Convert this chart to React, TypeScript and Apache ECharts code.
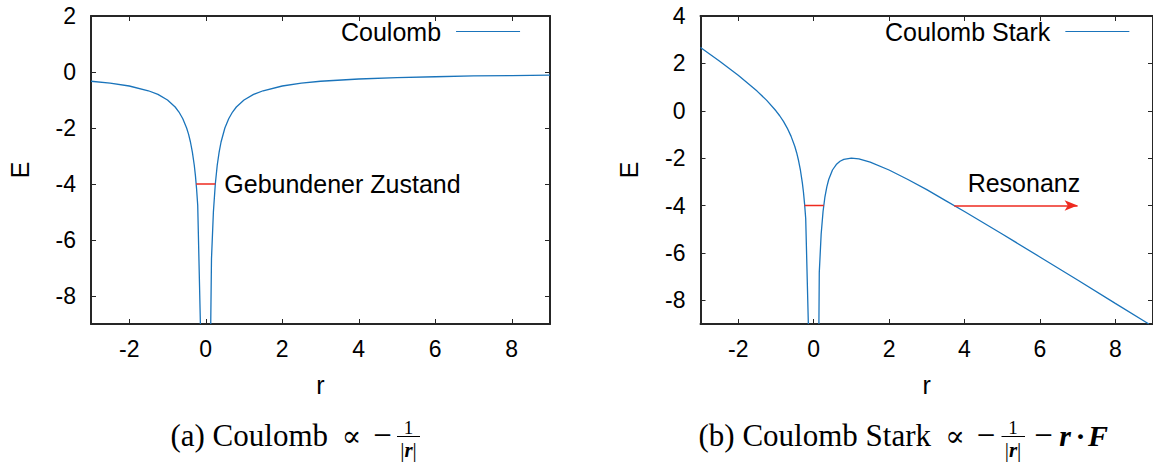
import React, { useEffect, useRef } from 'react';
import * as echarts from 'echarts';

// Axis ticks
const xTicks = [-2, 0, 2, 4, 6, 8];
const yTicksA = [-8, -6, -4, -2, 0, 2];
const yTicksB = [-8, -6, -4, -2, 0, 2, 4];

// (a) Coulomb potential
const coulombLeftR = [-3, -2.5, -2, -1.5, -1.25, -1, -0.8, -0.7, -0.6, -0.5, -0.45, -0.4, -0.35, -0.3, -0.27, -0.24, -0.21, -0.14];
const coulombLeftE = [-0.33, -0.4, -0.5, -0.67, -0.8, -1, -1.25, -1.43, -1.67, -2, -2.22, -2.5, -2.86, -3.33, -3.7, -4.17, -4.76, -9];
const coulombRightR = [0.13, 0.15, 0.2, 0.25, 0.3, 0.35, 0.4, 0.5, 0.6, 0.7, 0.8, 1, 1.25, 1.5, 2, 2.5, 3, 4, 5, 6, 7, 8, 9];
const coulombRightE = [-9, -6.67, -5, -4, -3.33, -2.86, -2.5, -2, -1.67, -1.43, -1.25, -1, -0.8, -0.67, -0.5, -0.4, -0.33, -0.25, -0.2, -0.17, -0.14, -0.13, -0.11];
const boundR_A = [-0.25, 0.25];
const boundE_A = [-4, -4];

// (b) Coulomb + Stark potential
const starkLeftR = [-3, -2.5, -2, -1.5, -1.25, -1, -0.9, -0.8, -0.7, -0.6, -0.5, -0.45, -0.4, -0.35, -0.3, -0.27, -0.24, -0.21, -0.14];
const starkLeftE = [2.67, 2.1, 1.5, 0.83, 0.45, 0, -0.21, -0.45, -0.73, -1.07, -1.5, -1.77, -2.1, -2.51, -3.03, -3.43, -3.93, -4.55, -9];
const starkRightR = [0.14, 0.15, 0.2, 0.25, 0.3, 0.35, 0.4, 0.5, 0.6, 0.7, 0.8, 1, 1.2, 1.5, 2, 2.5, 3, 3.5, 4, 5, 6, 7, 8, 8.89];
const starkRightE = [-9, -6.82, -5.2, -4.25, -3.63, -3.21, -2.9, -2.5, -2.27, -2.13, -2.05, -2, -2.03, -2.17, -2.5, -2.9, -3.33, -3.79, -4.25, -5.2, -6.17, -7.14, -8.13, -9];
const boundR_B = [-0.24, 0.27];
const boundE_B = [-4, -4];
const resonanceR = [3.73, 7];
const resonanceE = [-4, -4];

const zip = (xs: number[], ys: number[]) => xs.map((x, i) => [x, ys[i]]);

const BLUE = '#1a74bb';
const RED = '#ee2a1f';
const AXIS = '#262626';
const SANS = '"Liberation Sans", Arial, sans-serif';
const SERIF = '"Liberation Serif", "Times New Roman", serif';
const MATH = '"DejaVu Serif", serif';

function xAxisPair(gridIndex: number) {
  const line = { onZero: false, lineStyle: { color: AXIS, width: 2 } };
  const tick = { inside: true, length: 5, customValues: xTicks, lineStyle: { color: AXIS, width: 1 } };
  return [
    {
      type: 'value', gridIndex, position: 'bottom', min: -3, max: 9,
      axisLine: line, axisTick: tick,
      axisLabel: { customValues: xTicks, fontSize: 23, color: '#000', margin: 13, fontFamily: SANS },
      splitLine: { show: false },
      name: 'r', nameLocation: 'middle', nameGap: 48,
      nameTextStyle: { fontSize: 25, color: '#000', fontFamily: SANS },
    },
    {
      type: 'value', gridIndex, position: 'top', min: -3, max: 9,
      axisLine: line, axisTick: tick, axisLabel: { show: false }, splitLine: { show: false },
    },
  ];
}

function yAxisPair(gridIndex: number, max: number, ticks: number[]) {
  const line = { onZero: false, lineStyle: { color: AXIS, width: 2 } };
  const tick = { inside: true, length: 5, customValues: ticks, lineStyle: { color: AXIS, width: 1 } };
  return [
    {
      type: 'value', gridIndex, position: 'left', min: -9, max,
      axisLine: line, axisTick: tick,
      axisLabel: { customValues: ticks, fontSize: 23, color: '#000', margin: 15, fontFamily: SANS },
      splitLine: { show: false },
      name: 'E', nameLocation: 'middle', nameGap: 59, nameRotate: 90,
      nameTextStyle: { fontSize: 25, color: '#000', fontFamily: SANS },
    },
    {
      type: 'value', gridIndex, position: 'right', min: -9, max,
      axisLine: line, axisTick: tick, axisLabel: { show: false }, splitLine: { show: false },
    },
  ];
}

const curve = (name: string, xi: number, data: number[][]) => ({
  name, type: 'line', xAxisIndex: xi, yAxisIndex: xi, data,
  symbol: 'none', showSymbol: false, smooth: false,
  lineStyle: { color: BLUE, width: 1.3 }, itemStyle: { color: BLUE },
  silent: true,
});

const legendCommon = {
  orient: 'horizontal', align: 'right', padding: 0, itemGap: 0,
  icon: 'path://M0,0H64V1H0Z', itemWidth: 64, itemHeight: 1.4,
  textStyle: { fontSize: 25, color: '#000', fontFamily: SANS, padding: [0, 10, 0, 0] },
  selectedMode: false,
};

const txt = (x: number, y: number, text: string, fontSize: number, fontFamily: string, extra: any = {}) => ({
  type: 'text', x, y,
  style: { text, fontSize, fontFamily, fill: '#000', align: 'center', verticalAlign: 'middle', ...extra },
});

const denomRich = {
  n: { fontSize: 21, fontFamily: SERIF },
  b: { fontSize: 21, fontFamily: SERIF, fontStyle: 'italic', fontWeight: 'bold' },
};

const option: any = {
  animation: false,
  backgroundColor: '#fff',
  textStyle: { fontFamily: SANS },
  grid: [
    { left: 91, top: 16, width: 459, height: 308 },
    { left: 700.5, top: 16, width: 459.6, height: 308 },
  ],
  xAxis: [...xAxisPair(0), ...xAxisPair(1)],
  yAxis: [...yAxisPair(0, 2, yTicksA), ...yAxisPair(1, 4, yTicksB)],
  legend: [
    { ...legendCommon, data: ['Coulomb'], left: 341, top: 19 },
    { ...legendCommon, data: ['Coulomb Stark'], left: 885, top: 19 },
  ],
  series: [
    curve('Coulomb', 0, zip(coulombLeftR, coulombLeftE)),
    curve('Coulomb', 0, zip(coulombRightR, coulombRightE)),
    {
      name: 'Gebundener Zustand', type: 'line', xAxisIndex: 0, yAxisIndex: 0,
      data: zip(boundR_A, boundE_A), symbol: 'none', silent: true,
      lineStyle: { color: RED, width: 1.5 },
      endLabel: { show: true, formatter: 'Gebundener Zustand', fontSize: 25, color: '#000', fontFamily: SANS, distance: 9 },
    },
    curve('Coulomb Stark', 2, zip(starkLeftR, starkLeftE)),
    curve('Coulomb Stark', 2, zip(starkRightR, starkRightE)),
    {
      name: 'Gebunden Stark', type: 'line', xAxisIndex: 2, yAxisIndex: 2,
      data: zip(boundR_B, boundE_B), symbol: 'none', silent: true,
      lineStyle: { color: RED, width: 1.5 },
    },
    {
      name: 'Resonanz', type: 'line', xAxisIndex: 2, yAxisIndex: 2, data: [], symbol: 'none',
      markLine: {
        silent: true, animation: false,
        symbol: ['none', 'arrow'], symbolSize: [8, 13],
        lineStyle: { color: RED, width: 1.5, type: 'solid' },
        label: { show: true, position: 'middle', formatter: 'Resonanz', fontSize: 25, color: '#000', fontFamily: SANS, distance: 10, padding: [0, 0, 0, 16] },
        data: [[{ coord: [resonanceR[0], resonanceE[0]] }, { coord: [resonanceR[1], resonanceE[1]] }]],
      },
    },
  ],
  graphic: [
    // caption (a)
    txt(328, 435, '(a) Coulomb', 31, SERIF, { align: 'right' }),
    txt(351.5, 436, '\u221d', 29, MATH),
    txt(382.5, 435, '\u2212', 33, SERIF),
    txt(408.5, 427.5, '1', 19, SERIF),
    { type: 'line', shape: { x1: 397, y1: 436.5, x2: 420, y2: 436.5 }, style: { stroke: '#000', lineWidth: 1 } },
    txt(408.5, 450, '{n||}{b|r}{n||}', 21, SERIF, { rich: denomRich }),
    // caption (b)
    txt(931, 435, '(b) Coulomb Stark', 31, SERIF, { align: 'right' }),
    txt(955, 436, '\u221d', 29, MATH),
    txt(986, 435, '\u2212', 33, SERIF),
    txt(1013, 427.5, '1', 19, SERIF),
    { type: 'line', shape: { x1: 1001.5, y1: 436.5, x2: 1025, y2: 436.5 }, style: { stroke: '#000', lineWidth: 1 } },
    txt(1013, 450, '{n||}{b|r}{n||}', 21, SERIF, { rich: denomRich }),
    txt(1043.5, 435, '\u2212', 33, SERIF),
    txt(1065, 435, 'r', 30, SERIF, { fontStyle: 'italic', fontWeight: 'bold' }),
    txt(1080.5, 435, '\u00b7', 30, SERIF, { fontWeight: 'bold' }),
    txt(1098, 435, 'F', 30, SERIF, { fontStyle: 'italic', fontWeight: 'bold' }),
  ],
};

export default function App() {
  const ref = useRef<HTMLDivElement>(null);
  useEffect(() => {
    const chart = echarts.init(ref.current as HTMLDivElement, null, { renderer: 'svg' });
    chart.setOption(option);
    return () => chart.dispose();
  }, []);
  return (
    <div
      ref={ref}
      style={{ position: 'absolute', left: 0, top: 0, width: 1153, height: 463, background: '#fff' }}
    />
  );
}
